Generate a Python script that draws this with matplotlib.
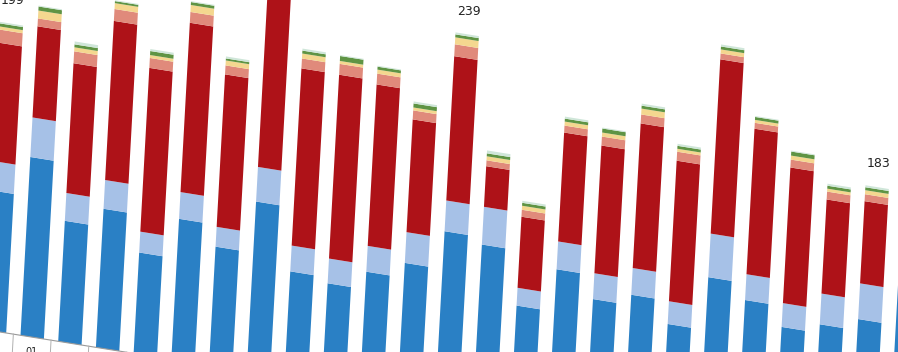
import numpy as np
import matplotlib
matplotlib.use("Agg")
import matplotlib.pyplot as plt
from matplotlib.transforms import Affine2D

# ---------------- data ----------------
months = ["12", "01", "02", "03", "04", "05", "06", "07", "08", "09", "10", "11",
          "12", "01", "02", "03", "04", "05", "06", "07", "08", "09", "10", "11", "12"]
blue = [90, 115.4, 78, 89.7, 65.3, 91, 76.9, 110, 68.7, 64.9, 76.3, 85.9, 110.3,
        105.6, 70, 97.4, 82, 88.7, 73.7, 107.9, 97, 83.5, 89.1, 96.4, 150]
light_blue = [19, 25.6, 18, 18.6, 13.5, 17.3, 12.8, 22.4, 16.7, 16, 16.7, 19.9, 19.9,
              24.4, 11.5, 18, 16.7, 17.3, 14.7, 28.2, 16.7, 15.4, 19.9, 23.1, 20]
red = [76.5, 59, 84, 103, 106, 109.6, 98.7, 122, 114.7, 119, 104.5, 73, 93.4,
       26.3, 46, 70.5, 82.7, 93.6, 91, 112.8, 94.2, 87.8, 60.9, 53.2, 70]
salmon = [8.5, 5.1, 7.7, 7.7, 6.4, 7, 5.8, 8, 6.4, 7, 7, 5.8, 7.7,
          3.8, 4.5, 4.5, 5.8, 5.8, 5.8, 3.8, 3.8, 5.1, 5.1, 4.5, 6]
yellow = [2, 5.1, 2.6, 3.8, 1.9, 4.5, 3.2, 3, 3.2, 1.9, 2.6, 1.9, 4.5,
          2.6, 2.6, 2.6, 2.6, 3.8, 1.9, 2.6, 1.9, 2.6, 1.9, 2.6, 3]
green = [2, 2.6, 1.9, 1.3, 2.6, 1.9, 1.3, 2, 1.9, 3.2, 1.9, 2.6, 1.9,
         1.9, 1.9, 1.9, 2.6, 1.9, 1.9, 1.9, 1.9, 2.6, 1.9, 1.9, 2]
mint = [1, 0.6, 1.9, 0.6, 1.3, 0.6, 1.3, 1, 1.3, 0.6, 0.6, 1.3, 1.3,
        1.9, 1.3, 1.3, 0.6, 1.3, 1.3, 1.3, 0.6, 0.6, 1.3, 1.3, 1]
labelled_bars = [0, 12, 23]

series = [blue, light_blue, red, salmon, yellow, green, mint]
colors = ["#2a80c5", "#a6c1e7", "#ae1218", "#e08a7b", "#f4d78f", "#5f9444", "#cfe6d9"]

# ---------------- geometry ----------------
W, H, DPI = 898, 352, 100
spacing = 37.7      # px between bars
offset = -5.5       # px position of first bar at baseline
px_per_unit = 1.545
lean = 0.055        # horizontal lean of vertical lines
slope = 0.16        # downward slope of horizontal lines
base_y = 20         # px (from bottom) of baseline at left edge

fig = plt.figure(figsize=(W / DPI, H / DPI), dpi=DPI)
ax = fig.add_axes([0, 0, 1, 1])
ax.axis("off")
ax.set_xlim(-offset / spacing, (W - offset) / spacing)
ax.set_ylim(0, H / px_per_unit)

n = len(blue)
x = np.arange(n)
bottom = np.zeros(n)
skew = Affine2D(np.array([[1.0, lean, 0.0], [-slope, 1.0, base_y], [0, 0, 1.0]]))

for vals, col in zip(series, colors):
    bars = ax.bar(x, vals, bottom=bottom, width=0.62, color=col, linewidth=0)
    for p in bars:
        p.set_transform(ax.transData + skew)
    bottom = bottom + np.array(vals)

ax.set_xlim(-offset / spacing, (W - offset) / spacing)
ax.set_ylim(0, H / px_per_unit)
trans = ax.transData + skew

for i in labelled_bars:
    ax.text(i, bottom[i] + 15, f"{round(bottom[i]):d}", transform=trans,
            ha="center", va="center", fontsize=9, color="#222222",
            family=["Liberation Sans Narrow", "DejaVu Sans"])

# data table under the axis
ax.plot([x[0] - 0.8, x[-1] + 0.8], [0, 0], transform=trans, color="#9a9a9a", lw=0.8)
for i in range(n + 1):
    ax.plot([i - 0.5, i - 0.5], [0, -25], transform=trans, color="#b0b0b0", lw=0.7)
for i, m in enumerate(months):
    px, py = trans.transform((i, -9.5))
    if 4 < px < W - 4 and py > -2:
        ax.text(i, -9.5, m, transform=trans, ha="center", va="center", fontsize=7,
                color="#222222", family=["Liberation Sans Narrow", "DejaVu Sans"])

fig.savefig("out.png", dpi=DPI, facecolor="white")
